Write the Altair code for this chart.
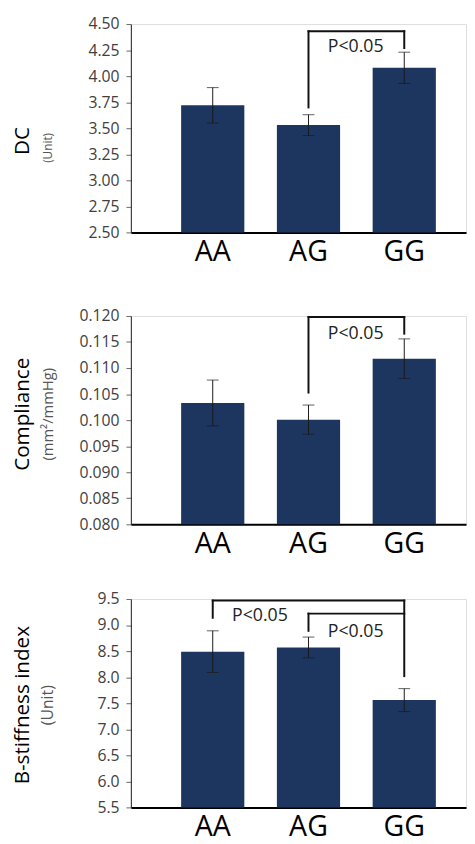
import altair as alt
import pandas as pd

FONT = "Open Sans"
BAR_COLOR = "#1c3660"

genotypes = ["AA", "AG", "GG"]

# Panel 1: DC
dc_mean = [3.72, 3.53, 4.08]
dc_err = [0.17, 0.10, 0.15]
dc_ticks = [2.50, 2.75, 3.00, 3.25, 3.50, 3.75, 4.00, 4.25, 4.50]
dc_br_x1 = ["AG", "AG", "GG"]
dc_br_x2 = ["AG", "GG", "GG"]
dc_br_y1 = [3.70, 4.43, 4.43]
dc_br_y2 = [4.43, 4.43, 4.27]
dc_p_cat = ["AG"]
dc_p_y = [4.28]
dc_p_text = ["P<0.05"]

# Panel 2: Compliance
comp_mean = [0.1033, 0.1001, 0.1118]
comp_err = [0.0044, 0.0028, 0.0038]
comp_ticks = [0.080, 0.085, 0.090, 0.095, 0.100, 0.105, 0.110, 0.115, 0.120]
comp_br_x1 = ["AG", "AG", "GG"]
comp_br_x2 = ["AG", "GG", "GG"]
comp_br_y1 = [0.1053, 0.1198, 0.1198]
comp_br_y2 = [0.1198, 0.1198, 0.1166]
comp_p_cat = ["AG"]
comp_p_y = [0.1166]
comp_p_text = ["P<0.05"]

# Panel 3: B-stiffness index
st_mean = [8.49, 8.57, 7.56]
st_err = [0.40, 0.20, 0.22]
st_ticks = [5.5, 6.0, 6.5, 7.0, 7.5, 8.0, 8.5, 9.0, 9.5]
st_br_x1 = ["AA", "AA", "GG", "AG", "AG"]
st_br_x2 = ["AA", "GG", "GG", "AG", "GG"]
st_br_y1 = [9.14, 9.47, 9.47, 8.89, 9.22]
st_br_y2 = [9.47, 9.47, 8.02, 9.22, 9.22]
st_p_cat = ["AA", "AG"]
st_p_y = [9.17, 8.86]
st_p_text = ["P<0.05", "P<0.05"]

W = 341


def panel(mean, err, ticks, fmt, br, ptxt, title, title_y, unit, unit_size, unit_y,
          height, x_min_extent):
    lo, hi = ticks[0], ticks[-1]
    xscale = alt.Scale(domain=genotypes, paddingInner=0.34, paddingOuter=0.42, align=0.625)
    yscale = alt.Scale(domain=[lo, hi], nice=False, zero=False)
    xaxis = alt.Axis(title=None, labelAngle=0, labelFontSize=29, labelColor="#000000",
                     labelFont=FONT, labelPadding=6, ticks=False, tickSize=0,
                     domainColor="#000000", domainWidth=2, minExtent=x_min_extent)
    yaxis = alt.Axis(title=None, values=ticks, format=fmt, labelFontSize=16, labelColor="#404040",
                     labelFont=FONT, labelPadding=7, tickSize=5, tickColor="#666666",
                     domainColor="#222222", domainWidth=1, grid=False, labelOverlap=False)
    df = pd.DataFrame({
        "g": genotypes,
        "m": mean,
        "lo": [a - b for a, b in zip(mean, err)],
        "hi": [a + b for a, b in zip(mean, err)],
    })

    def X(field):
        return alt.X(field, scale=xscale, sort=genotypes, axis=xaxis)

    def Y(field):
        return alt.Y(field, scale=yscale, axis=yaxis)

    bars = alt.Chart(df).mark_bar(color=BAR_COLOR).encode(
        x=X("g:N"), y=Y("m:Q"), y2=alt.datum(lo))
    errs = alt.Chart(df).mark_rule(color="#1a1a1a", strokeWidth=1).encode(
        x=X("g:N"), y=Y("lo:Q"), y2="hi:Q")
    cap_hi = alt.Chart(df).mark_tick(color="#1a1a1a", thickness=1, size=12).encode(
        x=X("g:N"), y=Y("hi:Q"))
    cap_lo = alt.Chart(df).mark_tick(color="#1a1a1a", thickness=1, size=12).encode(
        x=X("g:N"), y=Y("lo:Q"))
    bx1, bx2, by1, by2 = br
    bdf = pd.DataFrame({"x1": bx1, "x2": bx2, "y1": by1, "y2": by2})
    brackets = alt.Chart(bdf).mark_rule(color="#111111", strokeWidth=2, strokeCap="square").encode(
        x=alt.X("x1:N", scale=xscale, sort=genotypes, axis=xaxis, bandPosition=0.5),
        x2=alt.X2("x2", bandPosition=0.5),
        y=Y("y1:Q"),
        y2="y2:Q",
    )
    pc, py, pt = ptxt
    pdf = pd.DataFrame({"c": pc, "y": py, "t": pt})
    ptext = alt.Chart(pdf).mark_text(font=FONT, fontSize=18, color="#222222", dx=48,
                                     align="center", baseline="middle").encode(
        x=X("c:N"), y=Y("y:Q"), text="t:N")
    tdf = pd.DataFrame({"t": [title]})
    ttl = alt.Chart(tdf).mark_text(font=FONT, fontSize=21, color="#000000", angle=270,
                                   align="center", baseline="middle").encode(
        x=alt.value(-110), y=alt.value(title_y), text="t:N")
    udf = pd.DataFrame({"t": [unit]})
    unt = alt.Chart(udf).mark_text(font=FONT, fontSize=unit_size, color="#555555", angle=270,
                                   align="center", baseline="middle").encode(
        x=alt.value(-84), y=alt.value(unit_y), text="t:N")
    return alt.layer(bars, errs, cap_hi, cap_lo, brackets, ptext, ttl, unt).properties(
        width=W, height=height)


p1 = panel(dc_mean, dc_err, dc_ticks, ".2f",
           (dc_br_x1, dc_br_x2, dc_br_y1, dc_br_y2), (dc_p_cat, dc_p_y, dc_p_text),
           "DC", 119, "(Unit)", 12, 126, 212, 55)
p2 = panel(comp_mean, comp_err, comp_ticks, ".3f",
           (comp_br_x1, comp_br_x2, comp_br_y1, comp_br_y2), (comp_p_cat, comp_p_y, comp_p_text),
           "Compliance", 100, "(mm²/mmHg)", 15, 100, 212, 46)
p3 = panel(st_mean, st_err, st_ticks, ".1f",
           (st_br_x1, st_br_x2, st_br_y1, st_br_y2), (st_p_cat, st_p_y, st_p_text),
           "B-stiffness index", 108, "(Unit)", 16, 108, 212, 35)

chart = alt.vconcat(p1, p2, p3, spacing=20).properties(
    padding={"left": 3, "top": 0, "right": 0, "bottom": 0}
).configure_view(stroke=None).configure(font=FONT)

chart.save("out.html", embed_options={"renderer": "svg", "actions": False})
